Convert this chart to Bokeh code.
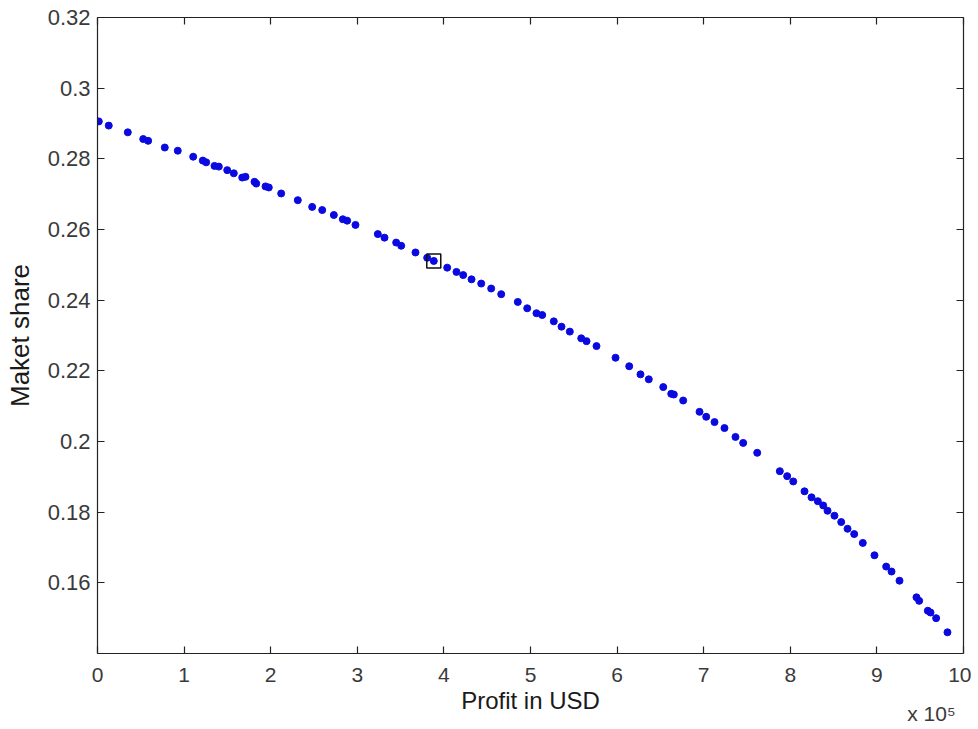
from bokeh.plotting import figure
from bokeh.models import Range1d, LinearAxis, FixedTicker
from bokeh.embed import file_html
from bokeh.resources import INLINE

# Profit in units of 1e5 USD
profit = [0.015, 0.130, 0.350, 0.528, 0.585, 0.777, 0.927, 1.105, 1.216, 1.255,
          1.351, 1.401, 1.498, 1.574, 1.671, 1.709, 1.813, 1.833, 1.940, 1.978,
          2.121, 2.313, 2.479, 2.595, 2.729, 2.833, 2.883, 2.979, 3.237, 3.314,
          3.449, 3.507, 3.672, 3.807, 3.883, 4.038, 4.145, 4.223, 4.319, 4.431,
          4.546, 4.662, 4.853, 4.962, 5.069, 5.135, 5.269, 5.358, 5.454, 5.586,
          5.647, 5.762, 5.982, 6.140, 6.270, 6.366, 6.533, 6.625, 6.655, 6.763,
          6.952, 7.029, 7.125, 7.240, 7.367, 7.456, 7.618, 7.879, 7.964, 8.034,
          8.164, 8.245, 8.318, 8.380, 8.430, 8.510, 8.588, 8.661, 8.738, 8.837,
          8.972, 9.107, 9.169, 9.261, 9.457, 9.488, 9.588, 9.619, 9.684, 9.815]
share = [0.2906, 0.2894, 0.2875, 0.2856, 0.2851, 0.2832, 0.2823, 0.2806, 0.2795, 0.2790,
         0.2780, 0.2778, 0.2768, 0.2759, 0.2747, 0.2749, 0.2735, 0.2730, 0.2722, 0.2719,
         0.2702, 0.2683, 0.2664, 0.2655, 0.2641, 0.2629, 0.2625, 0.2613, 0.2587, 0.2577,
         0.2563, 0.2554, 0.2535, 0.2520, 0.2511, 0.2492, 0.2480, 0.2471, 0.2459, 0.2447,
         0.2433, 0.2417, 0.2395, 0.2377, 0.2363, 0.2358, 0.2340, 0.2325, 0.2311, 0.2292,
         0.2284, 0.2270, 0.2237, 0.2213, 0.2190, 0.2176, 0.2154, 0.2135, 0.2133, 0.2116,
         0.2084, 0.2070, 0.2055, 0.2038, 0.2013, 0.1996, 0.1968, 0.1916, 0.1902, 0.1887,
         0.1859, 0.1842, 0.1831, 0.1819, 0.1804, 0.1790, 0.1772, 0.1753, 0.1738, 0.1713,
         0.1678, 0.1646, 0.1632, 0.1606, 0.1559, 0.1549, 0.1521, 0.1516, 0.1500, 0.1460]

selected_profit = [3.883]
selected_share = [0.2511]

x_ticks = [0, 1, 2, 3, 4, 5, 6, 7, 8, 9, 10]
x_tick_labels = ["0", "1", "2", "3", "4", "5", "6", "7", "8", "9", "10"]
y_ticks = [0.16, 0.18, 0.20, 0.22, 0.24, 0.26, 0.28, 0.30, 0.32]
y_tick_labels = ["0.16", "0.18", "0.2", "0.22", "0.24", "0.26", "0.28", "0.3", "0.32"]
x_exponent_label = "x 10\u2075"

FONT = "Liberation Sans"
TICK_COLOR = "#3a3a3a"
LABEL_COLOR = "#1a1a1a"
EXPONENT_POS = 9.63  # horizontal placement of the exponent note (x units)

p = figure(output_backend="svg", toolbar_location=None,
           frame_width=866, frame_height=636,
           x_range=Range1d(0, 10), y_range=Range1d(0.14, 0.32),
           min_border_left=97, min_border_top=17, min_border_right=8,
           min_border_bottom=70, background_fill_color="white",
           border_fill_color="white", outline_line_color=None)
p.grid.visible = False

def style_axis(ax, ticks, labels, show_labels=True, size="21px"):
    ax.ticker = FixedTicker(ticks=ticks)
    ax.major_tick_in = 7
    ax.major_tick_out = 0
    ax.minor_tick_line_color = None
    ax.axis_line_color = "#222222"
    ax.axis_line_width = 1.2
    ax.major_tick_line_color = "#222222"
    ax.major_tick_line_width = 1.2
    ax.major_label_text_font = FONT
    if show_labels:
        ax.major_label_overrides = {t: l for t, l in zip(ticks, labels)}
        ax.major_label_text_color = TICK_COLOR
        ax.major_label_text_font_size = size
    else:
        ax.major_label_text_color = None
        ax.major_label_text_font_size = "1px"
        ax.major_label_standoff = 0

xa = p.xaxis[0]
style_axis(xa, x_ticks, x_tick_labels, size="21px")
xa.major_label_standoff = 14
xa.axis_label = "Profit in USD"
xa.axis_label_text_font = FONT
xa.axis_label_text_font_size = "24px"
xa.axis_label_text_font_style = "normal"
xa.axis_label_text_color = LABEL_COLOR
xa.axis_label_standoff = 2

ya = p.yaxis[0]
style_axis(ya, y_ticks, y_tick_labels, size="22px")
ya.major_label_standoff = 7
ya.axis_label = "Maket share"
ya.axis_label_text_font = FONT
ya.axis_label_text_font_size = "26px"
ya.axis_label_text_font_style = "normal"
ya.axis_label_text_color = LABEL_COLOR
ya.axis_label_standoff = 10

top = LinearAxis()
style_axis(top, x_ticks, x_tick_labels, show_labels=False)
p.add_layout(top, "above")
right = LinearAxis()
style_axis(right, y_ticks, y_tick_labels, show_labels=False)
p.add_layout(right, "right")

# exponent note "x 10^5" under the right end of the x axis
expo = LinearAxis(ticker=FixedTicker(ticks=[EXPONENT_POS]),
                  major_label_overrides={EXPONENT_POS: x_exponent_label},
                  axis_line_color=None, major_tick_line_color=None,
                  minor_tick_line_color=None,
                  major_label_text_font=FONT, major_label_text_font_size="21px",
                  major_label_text_color=TICK_COLOR, major_label_standoff=-21)
p.add_layout(expo, "below")

p.scatter(profit, share, size=7, color="#0a0ae0", line_color="#0a0ae0")
p.scatter(selected_profit, selected_share, marker="square", size=14,
          fill_color=None, line_color="#111111", line_width=1.5)

open("out.html", "w").write(file_html(p, INLINE))
